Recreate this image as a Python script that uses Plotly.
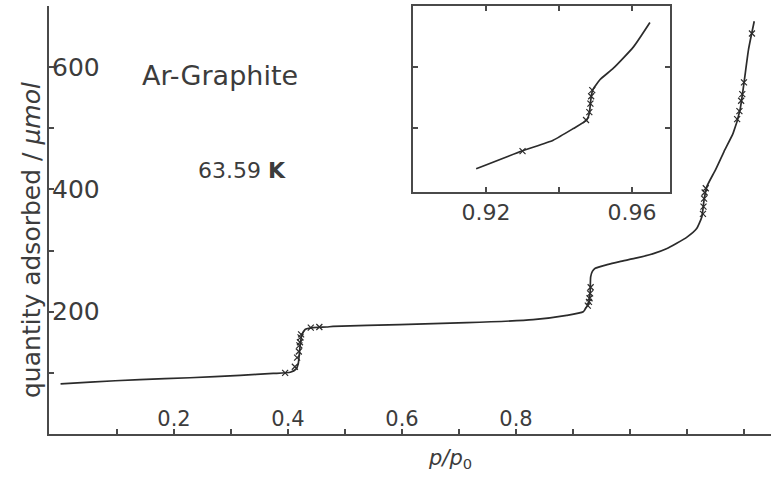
import plotly.graph_objects as go

# Argon adsorption isotherm on graphite at 63.59 K (traced curve)
p_rel = [0.001, 0.053, 0.140, 0.228, 0.316, 0.374, 0.404, 0.414, 0.418, 0.421,
         0.424, 0.430, 0.444, 0.468, 0.479, 0.596, 0.714, 0.830, 0.889, 0.918,
         0.924, 0.927, 0.930, 0.931, 0.934, 0.939, 0.960, 0.982, 1.012, 1.041,
         1.064, 1.082, 1.100, 1.117, 1.126, 1.130, 1.135, 1.150, 1.165, 1.181,
         1.193, 1.200, 1.208, 1.218]
n_ads = [82, 85, 89, 92, 96, 99, 101, 106, 115, 142,
         161, 171, 174, 175, 176, 179, 182, 187, 194, 200,
         208, 213, 230, 257, 266, 271, 277, 282, 288, 295,
         303, 312, 322, 336, 355, 383, 405, 432, 462, 492,
         530, 574, 629, 675]

# measured points (crosses) clustered on the layer steps
p_pts = [0.395, 0.412, 0.416, 0.419, 0.420, 0.421, 0.422, 0.423, 0.440, 0.455,
         0.926, 0.928, 0.929, 0.930, 0.931,
         1.128, 1.129, 1.130, 1.131, 1.133,
         1.188, 1.192, 1.195, 1.197, 1.200, 1.214]
n_pts = [100, 110, 125, 135, 145, 150, 158, 163, 174, 175,
         210, 216, 222, 230, 240,
         360, 372, 385, 395, 402,
         515, 528, 545, 556, 575, 655]

# enlarged view of the fourth layer step
p_inset = [0.9173, 0.9302, 0.9384, 0.9439, 0.9476, 0.9483, 0.9487, 0.9492,
           0.9512, 0.9549, 0.9604, 0.9649]
n_inset = [433, 463, 480, 499, 513, 524, 546, 562, 579, 598, 633, 673]
p_inset_pts = [0.9300, 0.9474, 0.9483, 0.9486, 0.9488, 0.9491]
n_inset_pts = [462, 513, 526, 540, 552, 562]

# axis ticks
main_major = [0.2, 0.4, 0.6, 0.8]
main_major_text = ["0.2", "0.4", "0.6", "0.8"]
y_major = [200, 400, 600]
y_major_text = ["200", "400", "600"]
inset_major = [0.92, 0.96]
inset_major_text = ["0.92", "0.96"]

ink = "#2b2b2b"
frame = "#4a4a4a"
txt = "#3c3c3c"
font_fam = "DejaVu Sans"

W, H = 771, 482
ML, MR, MT, MB = 49, 0, 6, 48
plot_w = W - ML - MR
plot_h = H - MT - MB


def paper_x(px):
    return (px - ML) / plot_w


def paper_y(py):
    return (H - MB - py) / plot_h


fig = go.Figure()

fig.add_trace(go.Scatter(x=p_rel, y=n_ads, mode="lines",
                         line=dict(color=ink, width=1.7, shape="spline", smoothing=0.5),
                         xaxis="x", yaxis="y", hoverinfo="skip"))
fig.add_trace(go.Scatter(x=p_pts, y=n_pts, mode="markers",
                         marker=dict(symbol="x-thin", size=6, line=dict(color=ink, width=1.2)),
                         xaxis="x", yaxis="y", hoverinfo="skip"))
fig.add_trace(go.Scatter(x=p_inset, y=n_inset, mode="lines",
                         line=dict(color=ink, width=1.7, shape="spline", smoothing=0.5),
                         xaxis="x3", yaxis="y3", hoverinfo="skip"))
fig.add_trace(go.Scatter(x=p_inset_pts, y=n_inset_pts, mode="markers",
                         marker=dict(symbol="x-thin", size=6, line=dict(color=ink, width=1.2)),
                         xaxis="x3", yaxis="y3", hoverinfo="skip"))

fig.update_layout(
    width=W, height=H,
    margin=dict(l=ML, r=MR, t=MT, b=MB),
    paper_bgcolor="white", plot_bgcolor="white",
    showlegend=False,
    font=dict(family=font_fam, color=txt),
    xaxis=dict(
        range=[-0.0193, 1.2474], showgrid=False, zeroline=False,
        showline=True, linecolor=frame, linewidth=2,
        ticks="inside", ticklen=5, tickwidth=1.5, tickcolor=frame,
        tickvals=main_major, ticktext=main_major_text,
        ticklabelposition="inside", tickfont=dict(size=21, color=txt),
        minor=dict(dtick=0.1, tick0=0, ticks="inside", ticklen=5, tickwidth=1.5, tickcolor=frame),
    ),
    xaxis2=dict(
        overlaying="x", side="top", anchor="y",
        range=[-72 / 73, 650 / 73], dtick=1, tick0=0,
        showgrid=False, zeroline=False, showticklabels=False,
        showline=True, linecolor=frame, linewidth=2,
        ticks="inside", ticklen=5, tickwidth=1.5, tickcolor=frame,
    ),
    yaxis=dict(
        range=[0, 700], showgrid=False, zeroline=False,
        showline=True, linecolor=frame, linewidth=2,
        ticks="inside", ticklen=5, tickwidth=1.5, tickcolor=frame,
        tickvals=y_major, ticktext=y_major_text,
        ticklabelposition="inside", tickfont=dict(size=25, color=txt),
        minor=dict(dtick=100, tick0=0, ticks="inside", ticklen=5, tickwidth=1.5, tickcolor=frame),
    ),
    xaxis3=dict(
        domain=[0.5042, 0.8601], anchor="y3", range=[0.90, 0.9704],
        showgrid=False, zeroline=False,
        showline=True, mirror="allticks", linecolor=frame, linewidth=2,
        ticks="inside", ticklen=5, tickwidth=1.5, tickcolor=frame,
        tickvals=inset_major, ticktext=inset_major_text,
        tickfont=dict(size=22, color=txt),
        minor=dict(dtick=0.02, tick0=0.90, ticks="inside", ticklen=5, tickwidth=1.5, tickcolor=frame),
    ),
    yaxis3=dict(
        domain=[0.5654, 1.0], anchor="x3", range=[395, 700],
        showgrid=False, zeroline=False, showticklabels=False,
        showline=True, mirror="allticks", linecolor=frame, linewidth=2,
        ticks="inside", ticklen=5, tickwidth=1.5, tickcolor=frame,
        tickvals=[500, 600],
    ),
    annotations=[
        dict(text="Ar-Graphite", x=0.281, y=587, xref="x", yref="y",
             showarrow=False, font=dict(size=27, color=txt)),
        dict(text="63.59 <b>K</b>", x=0.319, y=431, xref="x", yref="y",
             showarrow=False, font=dict(size=22, color=txt)),
        # axis titles, positioned in pixel terms of the page
        dict(text="<i>p/p</i><sub>0</sub>", x=paper_x(450), y=paper_y(459),
             xref="paper", yref="paper", xanchor="center", yanchor="middle",
             showarrow=False, font=dict(size=21, color=txt)),
        dict(text="quantity adsorbed / <i>\u03bcmol</i>", x=paper_x(31), y=paper_y(240),
             xref="paper", yref="paper", xanchor="center", yanchor="middle",
             textangle=-90, showarrow=False, font=dict(size=25, color=txt)),
    ],
)

fig.write_html("out.html")
